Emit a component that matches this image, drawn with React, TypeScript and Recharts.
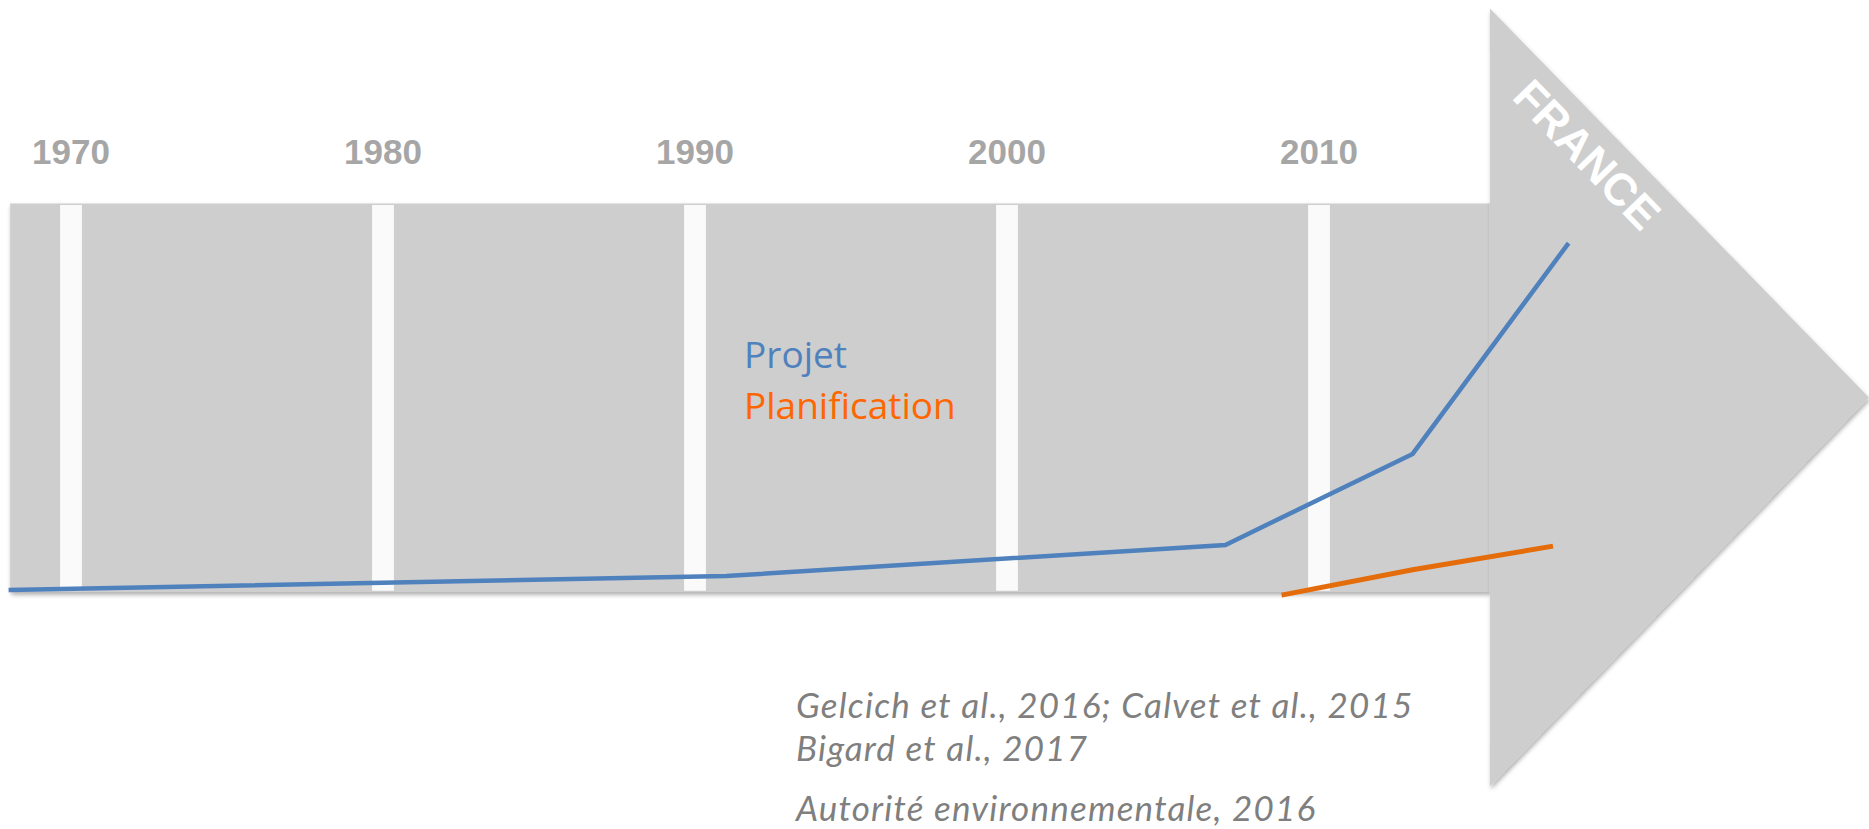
import React from 'react';
import { LineChart, Line, XAxis, YAxis, ReferenceArea, Legend } from 'recharts';

// tick labels / decade markers
const decades = [1970, 1980, 1990, 2000, 2010];

// series names, in legend order
const seriesNames = ['Projet', 'Planification'];

// "Projet" series
const projetYears = [1968, 1991, 2007, 2013, 2018];
const projetValues = [0.5, 4.1, 12.1, 35.5, 89.7];

// "Planification" series
const planifYears = [2008.8, 2013, 2017.5];
const planifValues = [-0.8, 5.7, 11.8];

const citations = [
  'Gelcich et al., 2016; Calvet et al., 2015',
  'Bigard et al., 2017',
  'Autorité environnementale, 2016',
];

const projetData = projetYears.map((year, i) => ({ year, value: projetValues[i] }));
const planifData = planifYears.map((year, i) => ({ year, value: planifValues[i] }));

const W = 1869;
const H = 829;

// scales: 1990 at 695px, 31.2px per year; value 0 at 592px, 3.89px per unit
const X_MIN = 1990 - 695 / 31.2;
const X_MAX = 1990 + (W - 695) / 31.2;
const Y_MIN = -(H - 592) / 3.89;
const Y_MAX = 592 / 3.89;

const ARROW = '#cecece';
const BLUE = '#4f81bd';
const ORANGE = '#e46c0a';
const legendColors: Record<string, string> = { Projet: '#4f81bd', Planification: '#ff6600' };

const shadow = (
  <defs>
    <filter id="arrowShadow" x="-5%" y="-5%" width="110%" height="115%">
      <feDropShadow dx="1" dy="3" stdDeviation="2" floodColor="#000" floodOpacity="0.3" />
    </filter>
  </defs>
);

const BodyShape = (props: any) => {
  const { x, y, width, height } = props;
  return (
    <g>
      {shadow}
      <rect x={x} y={y} width={width} height={height} fill={ARROW} filter="url(#arrowShadow)" />
      <line x1={x} y1={y + 0.5} x2={x + width} y2={y + 0.5} stroke="#e4e4e4" strokeWidth={1} />
    </g>
  );
};

const HeadShape = (props: any) => {
  const { x, y, width, height } = props;
  const pts = `${x},${y} ${x + width},${y + height / 2} ${x},${y + height}`;
  const cx = x + width * 0.256;
  const cy = y + height * 0.188;
  return (
    <g>
      <polygon points={pts} fill={ARROW} filter="url(#arrowShadow)" />
      {/* cover the body's right shadow */}
      <rect x={x - 1} y={y + height * 0.25} width={3} height={height * 0.5} fill={ARROW} />
      <text
        x={cx}
        y={cy}
        transform={`rotate(46 ${cx} ${cy})`}
        textAnchor="middle"
        dominantBaseline="central"
        fill="#ffffff"
        fontFamily="'Liberation Sans', Arial, sans-serif"
        fontWeight={700}
        fontSize={45}
      >
        FRANCE
      </text>
    </g>
  );
};

const renderLegend = (props: any) => {
  const payload = [...(props.payload || [])].sort(
    (a: any, b: any) => seriesNames.indexOf(a.value) - seriesNames.indexOf(b.value)
  );
  return (
    <div style={{ fontFamily: "'Open Sans', sans-serif", fontSize: 37, lineHeight: '51px' }}>
      {payload.map((entry: any) => (
        <div key={entry.value} style={{ color: legendColors[entry.value] || entry.color }}>
          {entry.value}
        </div>
      ))}
    </div>
  );
};

export default function App() {
  return (
    <div style={{ position: 'absolute', left: 0, top: 0, width: W, height: H, background: '#fff', overflow: 'hidden' }}>
      <LineChart width={W} height={H} margin={{ top: 0, right: 0, bottom: 0, left: 0 }}>
        <XAxis type="number" dataKey="year" domain={[X_MIN, X_MAX]} allowDataOverflow hide />
        <YAxis type="number" domain={[Y_MIN, Y_MAX]} allowDataOverflow hide />
        <ReferenceArea x1={1968.05} x2={2015.48} y1={0} y2={100} shape={BodyShape} ifOverflow="visible" />
        <ReferenceArea x1={2015.48} x2={X_MAX} y1={-50} y2={150} shape={HeadShape} ifOverflow="visible" />
        {decades.map((d) => (
          <ReferenceArea
            key={d}
            x1={d - 0.35}
            x2={d + 0.35}
            y1={0.3}
            y2={99.5}
            fill="#fafafa"
            fillOpacity={1}
            ifOverflow="visible"
            label={{
              value: String(d),
              position: 'top',
              offset: 41,
              fill: '#a6a6a6',
              fontSize: 35,
              fontWeight: 700,
              fontFamily: "'Liberation Sans', Arial, sans-serif",
            }}
          />
        ))}
        <Line
          name={seriesNames[0]}
          data={projetData}
          dataKey="value"
          type="linear"
          stroke={BLUE}
          strokeWidth={4.5}
          dot={false}
          activeDot={false}
          isAnimationActive={false}
        />
        <Line
          name={seriesNames[1]}
          data={planifData}
          dataKey="value"
          type="linear"
          stroke={ORANGE}
          strokeWidth={5}
          dot={false}
          activeDot={false}
          isAnimationActive={false}
        />
        <Legend
          layout="vertical"
          align="center"
          verticalAlign="middle"
          content={renderLegend}
          wrapperStyle={{ left: 744, top: 328, width: 'auto' }}
        />
      </LineChart>
      {citations.map((c, i) => (
        <div
          key={c}
          style={{
            position: 'absolute',
            left: 796,
            top: [687, 730, 790][i],
            fontFamily: 'Lato, sans-serif',
            fontStyle: 'italic',
            fontSize: 35,
            letterSpacing: 1.2,
            lineHeight: '35px',
            color: '#7f7f7f',
            whiteSpace: 'nowrap',
          }}
        >
          {c}
        </div>
      ))}
    </div>
  );
}
